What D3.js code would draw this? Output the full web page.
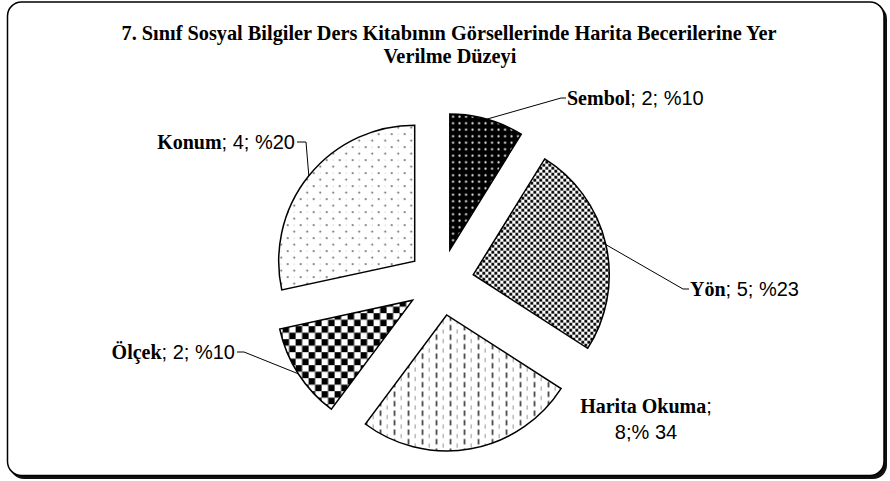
<!DOCTYPE html>
<html>
<head>
<meta charset="utf-8">
<script src="https://cdn.jsdelivr.net/npm/d3@7"></script>
<style>
  html, body { margin: 0; padding: 0; background: #fff; }
  svg { display: block; }
</style>
</head>
<body>
<div id="chart"></div>
<script>
// slice order, clockwise from 12 o'clock
const categories = ['Sembol', 'Yön', 'Harita Okuma', 'Ölçek', 'Konum'];
// slice sizes as drawn in the picture (share of the circle, %)
const sliceShares = [8.8, 25.3, 26.1, 11.4, 28.4];
// label text after the bold category name
const valueTexts = ['; 2; %10', '; 5; %23', ';', '; 2; %10', '; 4; %20'];
const secondLines = ['', '', '8;% 34', '', ''];
const patternIds = ['pSembol', 'pYon', 'pHarita', 'pOlcek', 'pKonum'];

const titleLines = [
  '7. Sınıf Sosyal Bilgiler Ders Kitabının Görsellerinde Harita Becerilerine Yer',
  'Verilme Düzeyi'
];

const W = 890, H = 481;
const cx = 440.7, cy = 282.1;
const radius = 136;
const explode = 33.4;

// label boxes (elbow of leader line, end of short dash, text anchor)
const labelLayout = [
  { elbow: [561, 98], dashEnd: 566, x: 567, y: 105, anchor: 'start' },
  { elbow: [683, 289], dashEnd: 689, x: 690, y: 296, anchor: 'start' },
  { elbow: null, x: 646, y: 413, anchor: 'middle' },
  { elbow: [244, 352], dashEnd: 237, x: 235, y: 359, anchor: 'end' },
  { elbow: [306, 142], dashEnd: 297, x: 295, y: 149, anchor: 'end' }
];

const svg = d3.select('#chart').append('svg')
  .attr('width', W)
  .attr('height', H);

const defs = svg.append('defs');

function pattern(id, w, h) {
  return defs.append('pattern')
    .attr('id', id)
    .attr('patternUnits', 'userSpaceOnUse')
    .attr('width', w)
    .attr('height', h);
}

// Sembol: black with light dots
let p = pattern('pSembol', 6.5, 6.5);
p.append('rect').attr('width', 6.5).attr('height', 6.5).attr('fill', '#000');
p.append('circle').attr('cx', 3.25).attr('cy', 3.25).attr('r', 1.1).attr('fill', '#e6e6e6');

// Yön: dense staggered black dots
p = pattern('pYon', 6, 6);
p.append('rect').attr('width', 6).attr('height', 6).attr('fill', '#fff');
p.append('rect').attr('x', 0.1).attr('y', 0.1).attr('width', 2.9).attr('height', 2.9).attr('rx', 0.9).attr('fill', '#000');
p.append('rect').attr('x', 3.1).attr('y', 3.1).attr('width', 2.9).attr('height', 2.9).attr('rx', 0.9).attr('fill', '#000');

// Harita Okuma: vertical dashes
p = pattern('pHarita', 14, 9.5);
p.append('rect').attr('width', 14).attr('height', 9.5).attr('fill', '#fff');
p.append('rect').attr('x', 3).attr('y', 0.5).attr('width', 1.6).attr('height', 5.5).attr('fill', '#333');
p.append('rect').attr('x', 10).attr('y', 5).attr('width', 0.9).attr('height', 4.2).attr('fill', '#888');

// Ölçek: checkerboard
p = pattern('pOlcek', 13, 13);
p.append('rect').attr('width', 13).attr('height', 13).attr('fill', '#fff');
p.append('rect').attr('width', 6.5).attr('height', 6.5).attr('fill', '#000');
p.append('rect').attr('x', 6.5).attr('y', 6.5).attr('width', 6.5).attr('height', 6.5).attr('fill', '#000');

// Konum: sparse grey dots
p = pattern('pKonum', 13, 13);
p.append('rect').attr('width', 13).attr('height', 13).attr('fill', '#fff');
p.append('circle').attr('cx', 3).attr('cy', 3).attr('r', 0.9).attr('fill', '#555');
p.append('circle').attr('cx', 9.5).attr('cy', 9.5).attr('r', 0.9).attr('fill', '#555');
p.append('rect').attr('x', 9.2).attr('y', 2.5).attr('width', 0.6).attr('height', 1.2).attr('fill', '#aaa');

// frame with shadow
svg.append('rect')
  .attr('x', 10).attr('y', 5).attr('width', 877).attr('height', 474)
  .attr('rx', 14).attr('fill', '#111');
svg.append('rect')
  .attr('x', 7.5).attr('y', 2).attr('width', 876.5).attr('height', 473.5)
  .attr('rx', 14).attr('fill', '#fff').attr('stroke', '#000').attr('stroke-width', 1.5);

// title
const title = svg.append('g')
  .attr('font-family', '"Liberation Serif", "Times New Roman", serif')
  .attr('font-weight', 'bold')
  .attr('font-size', 21)
  .attr('text-anchor', 'middle')
  .attr('fill', '#000');

const t1 = title.append('text').attr('x', 449).attr('y', 40).text(titleLines[0]);
const t2 = title.append('text').attr('x', 450).attr('y', 63).text(titleLines[1]);
const squeeze = 655 / t1.node().getComputedTextLength();
if (squeeze < 1) {
  t1.attr('textLength', 655).attr('lengthAdjust', 'spacingAndGlyphs');
  t2.attr('textLength', t2.node().getComputedTextLength() * squeeze)
    .attr('lengthAdjust', 'spacingAndGlyphs');
}

// pie
const pie = d3.pie().sort(null).value(d => d);
const arcs = pie(sliceShares);
const arc = d3.arc().innerRadius(0).outerRadius(radius);

const slices = svg.append('g').attr('transform', `translate(${cx},${cy})`);

function shift(d) {
  const a = (d.startAngle + d.endAngle) / 2;
  return [explode * Math.sin(a), -explode * Math.cos(a)];
}

slices.selectAll('path')
  .data(arcs)
  .enter()
  .append('path')
  .attr('transform', d => `translate(${shift(d)})`)
  .attr('d', arc)
  .attr('fill', (d, i) => `url(#${patternIds[i]})`)
  .attr('stroke', '#000')
  .attr('stroke-width', 1.5)
  .attr('stroke-linejoin', 'miter');

// leader lines: from the middle of the outer arc to the label
const leaders = svg.append('g')
  .attr('fill', 'none')
  .attr('stroke', '#000')
  .attr('stroke-width', 1);

arcs.forEach((d, i) => {
  const L = labelLayout[i];
  if (!L.elbow) return;
  const a = (d.startAngle + d.endAngle) / 2;
  const [sx, sy] = shift(d);
  const px = cx + sx + radius * Math.sin(a);
  const py = cy + sy - radius * Math.cos(a);
  const pts = [[px, py], L.elbow, [L.dashEnd, L.elbow[1]]];
  leaders.append('path').attr('d', d3.line()(pts));
});

// labels
const labels = svg.append('g').attr('fill', '#000').attr('font-size', 20);

categories.forEach((name, i) => {
  const L = labelLayout[i];
  const txt = labels.append('text')
    .attr('x', L.x)
    .attr('y', L.y)
    .attr('text-anchor', L.anchor);
  txt.append('tspan')
    .attr('font-family', '"Liberation Serif", "Times New Roman", serif')
    .attr('font-weight', 'bold')
    .text(name);
  txt.append('tspan')
    .attr('font-family', '"Liberation Sans", Arial, sans-serif')
    .text(valueTexts[i]);
  if (secondLines[i]) {
    labels.append('text')
      .attr('x', L.x)
      .attr('y', L.y + 26)
      .attr('text-anchor', L.anchor)
      .attr('font-family', '"Liberation Sans", Arial, sans-serif')
      .text(secondLines[i]);
  }
});
</script>
</body>
</html>
